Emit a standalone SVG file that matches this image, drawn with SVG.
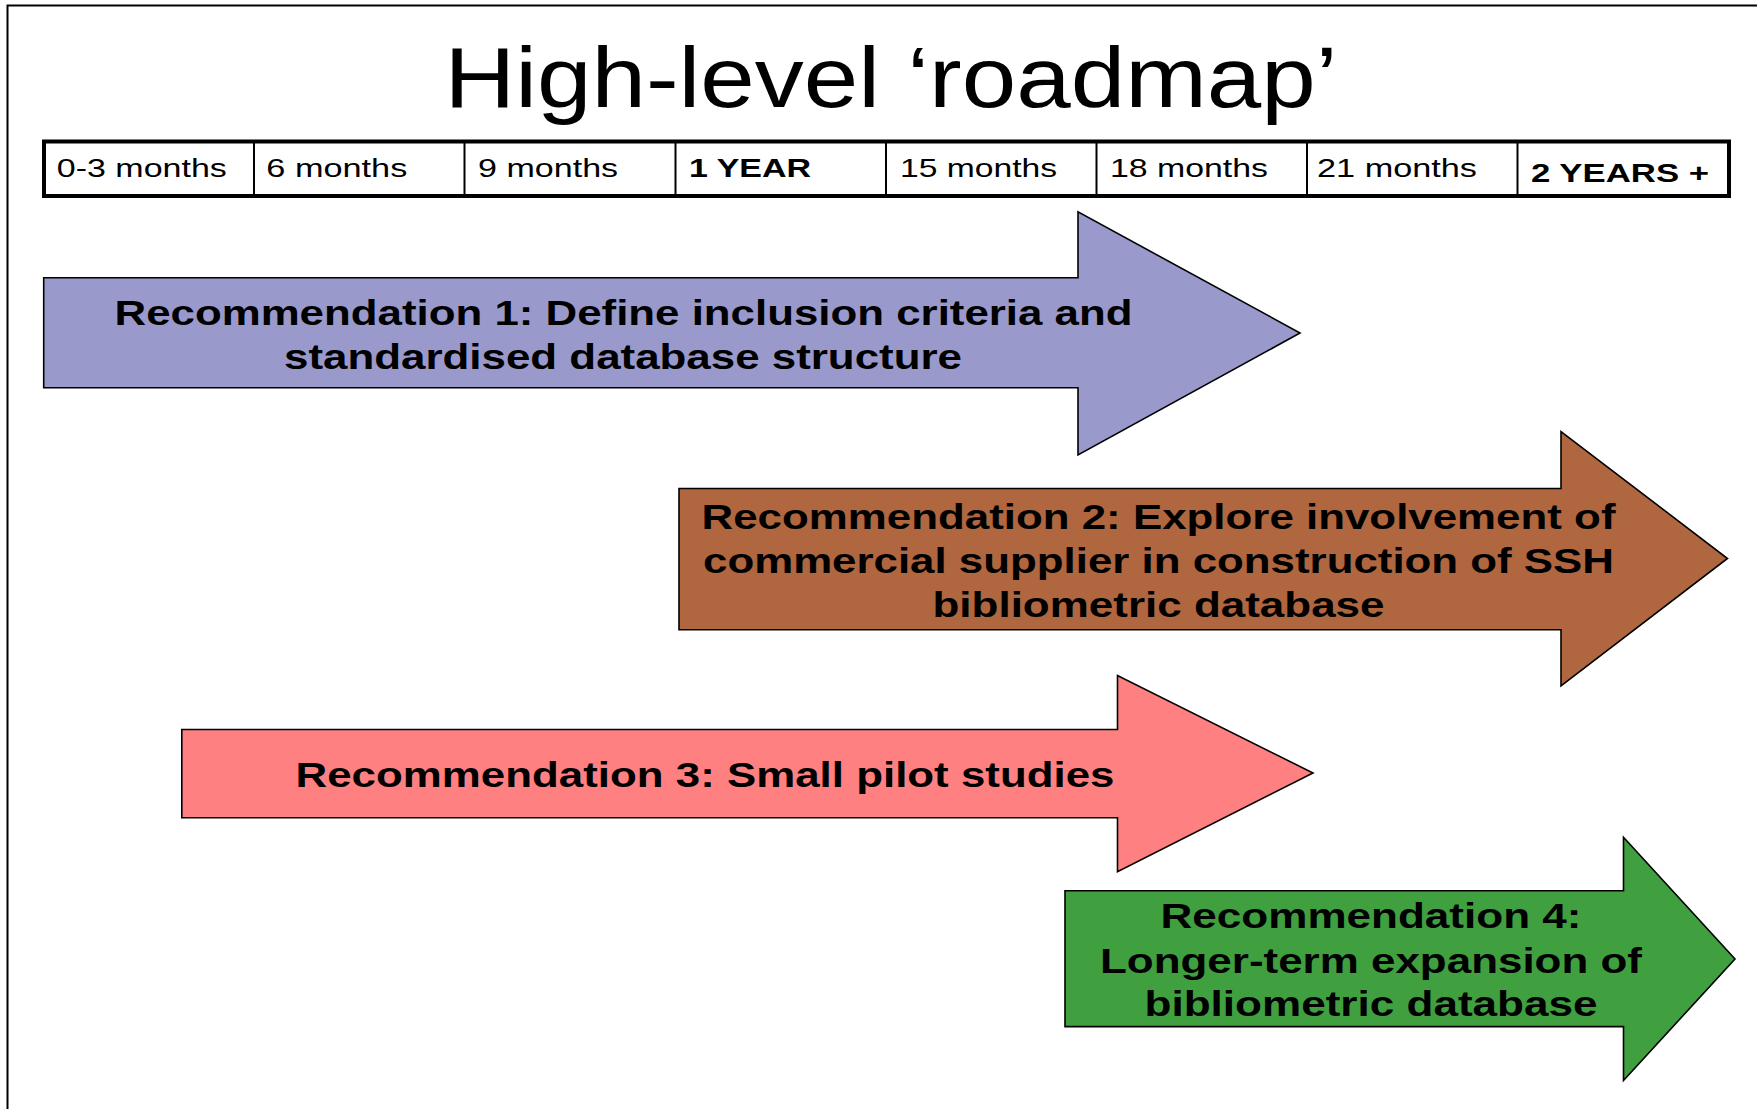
<svg xmlns="http://www.w3.org/2000/svg" width="1757" height="1109" viewBox="0 0 1757 1109">
<style>
.title{font-family:"Liberation Sans",Arial,sans-serif;font-size:85px;fill:#000}
.cell{font-family:"Liberation Sans",Arial,sans-serif;font-size:26.5px;fill:#000}
.cellb{font-family:"Liberation Sans",Arial,sans-serif;font-size:26.5px;font-weight:bold;fill:#000}
.lbl{font-family:"Liberation Sans",Arial,sans-serif;font-size:35px;font-weight:bold;fill:#000;text-anchor:middle}
.arrow{stroke:#000;stroke-width:1.6;stroke-linejoin:miter}
</style>
<rect width="1757" height="1109" fill="#fff"/>
<path d="M7.5,1109 V5.5 H1757" fill="none" stroke="#000" stroke-width="2"/>
<text class="title" x="891" y="107" text-anchor="middle" textLength="893" lengthAdjust="spacingAndGlyphs">High-level ‘roadmap’</text>
<g id="timeline">
<rect x="44" y="141.5" width="1685" height="54.5" fill="#fff" stroke="#000" stroke-width="4"/>
<g stroke="#000" stroke-width="2">
<line x1="254" y1="142" x2="254" y2="196"/>
<line x1="464.5" y1="142" x2="464.5" y2="196"/>
<line x1="675.5" y1="142" x2="675.5" y2="196"/>
<line x1="886" y1="142" x2="886" y2="196"/>
<line x1="1096.5" y1="142" x2="1096.5" y2="196"/>
<line x1="1307" y1="142" x2="1307" y2="196"/>
<line x1="1517.5" y1="142" x2="1517.5" y2="196"/>
</g>
<text class="cell" x="56.8" y="177" textLength="170" lengthAdjust="spacingAndGlyphs">0-3 months</text>
<text class="cell" x="266.3" y="177" textLength="141" lengthAdjust="spacingAndGlyphs">6 months</text>
<text class="cell" x="478.1" y="177" textLength="140" lengthAdjust="spacingAndGlyphs">9 months</text>
<text class="cellb" x="689" y="177" textLength="122" lengthAdjust="spacingAndGlyphs">1 YEAR</text>
<text class="cell" x="900" y="177" textLength="157" lengthAdjust="spacingAndGlyphs">15 months</text>
<text class="cell" x="1110" y="177" textLength="158" lengthAdjust="spacingAndGlyphs">18 months</text>
<text class="cell" x="1317" y="177" textLength="160" lengthAdjust="spacingAndGlyphs">21 months</text>
<text class="cellb" x="1531" y="182" textLength="178" lengthAdjust="spacingAndGlyphs">2 YEARS +</text>
</g>
<g id="rec1">
<path class="arrow" fill="#9999CC" d="M43.7,277.8 H1078 V211.8 L1300,333 L1078,455 V387.7 H43.7 Z"/>
<text class="lbl" x="623.5" y="325" textLength="1018" lengthAdjust="spacingAndGlyphs">Recommendation 1: Define inclusion criteria and</text>
<text class="lbl" x="623" y="368.5" textLength="678" lengthAdjust="spacingAndGlyphs">standardised database structure</text>
</g>
<g id="rec2">
<path class="arrow" fill="#B0663F" d="M679,488.5 H1561 V431.5 L1727.5,558.5 L1561,686 V629.8 H679 Z"/>
<text class="lbl" x="1158.5" y="528.5" textLength="914" lengthAdjust="spacingAndGlyphs">Recommendation 2: Explore involvement of</text>
<text class="lbl" x="1158.5" y="573" textLength="911" lengthAdjust="spacingAndGlyphs">commercial supplier in construction of SSH</text>
<text class="lbl" x="1158.5" y="617" textLength="452" lengthAdjust="spacingAndGlyphs">bibliometric database</text>
</g>
<g id="rec3">
<path class="arrow" fill="#FF8080" d="M181.8,729.5 H1117.5 V675.5 L1313,773 L1117.5,871.7 V817.8 H181.8 Z"/>
<text class="lbl" x="705" y="787" textLength="819" lengthAdjust="spacingAndGlyphs">Recommendation 3: Small pilot studies</text>
</g>
<g id="rec4">
<path class="arrow" fill="#40A040" d="M1065,890.8 H1623.5 V837.2 L1735,959 L1623.5,1080.5 V1026.6 H1065 Z"/>
<text class="lbl" x="1371" y="928" textLength="421" lengthAdjust="spacingAndGlyphs">Recommendation 4:</text>
<text class="lbl" x="1371" y="972.5" textLength="542" lengthAdjust="spacingAndGlyphs">Longer-term expansion of</text>
<text class="lbl" x="1371" y="1015.5" textLength="453" lengthAdjust="spacingAndGlyphs">bibliometric database</text>
</g>
<g id="connectors"/>
</svg>
